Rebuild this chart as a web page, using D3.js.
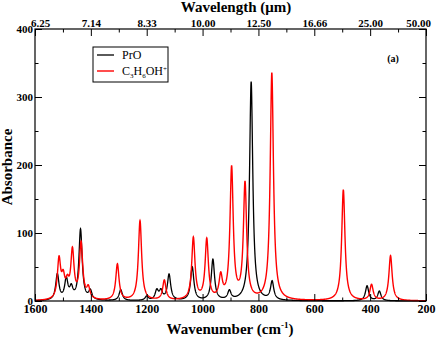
<!DOCTYPE html>
<html>
<head>
<meta charset="utf-8">
<script src="https://cdn.jsdelivr.net/npm/d3@7"></script>
<style>
  body { margin: 0; background: #fff; }
  svg text { font-family: "Liberation Serif", "Times New Roman", Times, "DejaVu Serif", serif; }
</style>
</head>
<body>
<div class="chart-container"></div>
<script>
// peak positions (cm-1) and heights
const proCenters = [1520, 1488, 1470, 1437, 1402, 1293, 1200, 1164, 1149, 1120, 1037, 963, 904, 826, 751, 411, 367];
const proHeights = [38, 30, 16, 104, 13, 16, 6, 14, 13, 38, 49, 60, 13, 322, 27, 22, 14];

const ionCenters = [1514, 1499, 1484, 1466, 1435, 1409, 1305, 1224, 1137, 1033, 985, 935, 896, 848, 752, 496, 395, 327];
const ionHeights = [58, 28, 20, 70, 82, 16, 53, 117, 29, 91, 88, 33, 193, 170, 334, 163, 23, 66];

const majorTicks = [1600, 1400, 1200, 1000, 800, 600, 400, 200];
const minorTicks = [1500, 1300, 1100, 900, 700, 500, 300];
const wavelengthLabels = ["6.25", "7.14", "8.33", "10.00", "12.50", "16.66", "25.00", "50.00"];
const yMajor = [0, 100, 200, 300, 400];
const yMinor = [50, 150, 250, 350];

const serif = '"Liberation Serif", "Times New Roman", Times, serif';

function draw() {
    const width = 436;
    const height = 337;
    const left = 35, right = 426, top = 29, bottom = 301;
    const hwhm = 7;

    const x = d3.scaleLinear().domain([1600, 200]).range([left, right]);
    const y = d3.scaleLinear().domain([0, 400]).range([bottom, top]);

    // lorentzian-broadened stick spectrum
    function spectrum(centers, heights) {
        const pts = [];
        for (let w = 1600; w >= 200; w -= 0.5) {
            let s = 0;
            centers.forEach((c, i) => {
                const d = w - c;
                s += heights[i] * hwhm * hwhm / (d * d + hwhm * hwhm);
            });
            pts.push([w, Math.min(s, 400)]);
        }
        return pts;
    }

    const svg = d3.select('.chart-container').append("svg")
        .attr("width", width)
        .attr("height", height)
        .attr("font-family", serif);

    const line = d3.line().x(d => x(d[0])).y(d => y(d[1]));

    const plot = svg.append('g');
    plot.append('path')
        .datum(spectrum(proCenters, proHeights))
        .attr('fill', 'none')
        .attr('stroke', '#000')
        .attr('stroke-width', 1.3)
        .attr('d', line);
    plot.append('path')
        .datum(spectrum(ionCenters, ionHeights))
        .attr('fill', 'none')
        .attr('stroke', '#ff0000')
        .attr('stroke-width', 1.4)
        .attr('d', line);

    // axes, ticks pointing inward
    const fmtAxis = g => {
        g.attr('font-family', serif);
        g.select('.domain').remove();
        g.selectAll('line').attr('stroke', '#000');
        g.selectAll('text')
            .style('font-weight', 'bold')
            .style('font-size', '12px')
            .attr('fill', '#000');
    };

    svg.append('g').attr('transform', `translate(0,${bottom})`)
        .call(d3.axisBottom(x).tickValues(majorTicks).tickSizeInner(-7).tickSizeOuter(0).tickPadding(3).tickFormat(d3.format('d')))
        .call(fmtAxis);
    svg.append('g').attr('transform', `translate(0,${bottom})`)
        .call(d3.axisBottom(x).tickValues(minorTicks).tickSizeInner(-3.5).tickSizeOuter(0).tickFormat(''))
        .call(fmtAxis);

    svg.append('g').attr('transform', `translate(0,${top})`)
        .call(d3.axisTop(x).tickValues(majorTicks).tickSizeInner(-7).tickSizeOuter(0).tickPadding(2)
            .tickFormat((d, i) => wavelengthLabels[i]))
        .call(fmtAxis)
        .call(g => {
            g.selectAll('text').style('font-size', '11px');
            // first and last labels are nudged inside the page
            g.selectAll('text').filter(d => d === 1600).attr('dx', 5);
            g.selectAll('text').filter(d => d === 200).attr('dx', -8);
        });
    svg.append('g').attr('transform', `translate(0,${top})`)
        .call(d3.axisTop(x).tickValues(minorTicks).tickSizeInner(-3.5).tickSizeOuter(0).tickFormat(''))
        .call(fmtAxis);

    svg.append('g').attr('transform', `translate(${left},0)`)
        .call(d3.axisLeft(y).tickValues(yMajor).tickSizeInner(-7).tickSizeOuter(0).tickPadding(2))
        .call(fmtAxis)
        .call(g => g.selectAll('text').style('font-size', '11px'));
    svg.append('g').attr('transform', `translate(${left},0)`)
        .call(d3.axisLeft(y).tickValues(yMinor).tickSizeInner(-3.5).tickSizeOuter(0).tickFormat(''))
        .call(fmtAxis);
    svg.append('g').attr('transform', `translate(${right},0)`)
        .call(d3.axisRight(y).tickValues(yMajor).tickSizeInner(-7).tickSizeOuter(0).tickFormat(''))
        .call(fmtAxis);
    svg.append('g').attr('transform', `translate(${right},0)`)
        .call(d3.axisRight(y).tickValues(yMinor).tickSizeInner(-3.5).tickSizeOuter(0).tickFormat(''))
        .call(fmtAxis);

    svg.append('rect')
        .attr('x', left).attr('y', top)
        .attr('width', right - left).attr('height', bottom - top)
        .attr('fill', 'none').attr('stroke', '#000').attr('stroke-width', 1.2);

    // titles
    svg.append('text')
        .attr('x', 236).attr('y', 12)
        .attr('text-anchor', 'middle')
        .style('font-weight', 'bold').style('font-size', '15px')
        .text('Wavelength (\u03bcm)');

    const xt = svg.append('text')
        .attr('x', 230).attr('y', 334)
        .attr('text-anchor', 'middle')
        .style('font-weight', 'bold').style('font-size', '15px');
    xt.append('tspan').text('Wavenumber (cm');
    xt.append('tspan').attr('dy', -6).style('font-size', '9px').text('-1');
    xt.append('tspan').attr('dy', 6).text(')');

    svg.append('text')
        .attr('transform', `translate(12,${(top + bottom) / 2 + 2}) rotate(-90)`)
        .attr('text-anchor', 'middle')
        .style('font-weight', 'bold').style('font-size', '15px')
        .text('Absorbance');

    svg.append('text')
        .attr('x', 393).attr('y', 62)
        .attr('text-anchor', 'middle')
        .style('font-weight', 'bold').style('font-size', '10px')
        .text('(a)');

    // legend
    const legend = svg.append('g').attr('id', 'legend');
    legend.append('rect')
        .attr('x', 93).attr('y', 47).attr('width', 75).attr('height', 35)
        .attr('fill', '#fff').attr('stroke', '#000').attr('stroke-width', 1);
    legend.append('line').attr('x1', 97).attr('x2', 114).attr('y1', 55).attr('y2', 55)
        .attr('stroke', '#000').attr('stroke-width', 1.3);
    legend.append('line').attr('x1', 97).attr('x2', 114).attr('y1', 71).attr('y2', 71)
        .attr('stroke', '#ff0000').attr('stroke-width', 1.4);
    legend.append('text').attr('x', 122).attr('y', 59)
        .style('font-size', '12px').text('PrO');
    const lt = legend.append('text').attr('x', 122).attr('y', 75).style('font-size', '12px');
    lt.append('tspan').text('C');
    lt.append('tspan').attr('dy', 3).style('font-size', '7px').text('3');
    lt.append('tspan').attr('dy', -3).text('H');
    lt.append('tspan').attr('dy', 3).style('font-size', '7px').text('6');
    lt.append('tspan').attr('dy', -3).text('OH');
    lt.append('tspan').attr('dy', -4).style('font-size', '7px').text('+');
}

draw();
</script>
</body>
</html>
